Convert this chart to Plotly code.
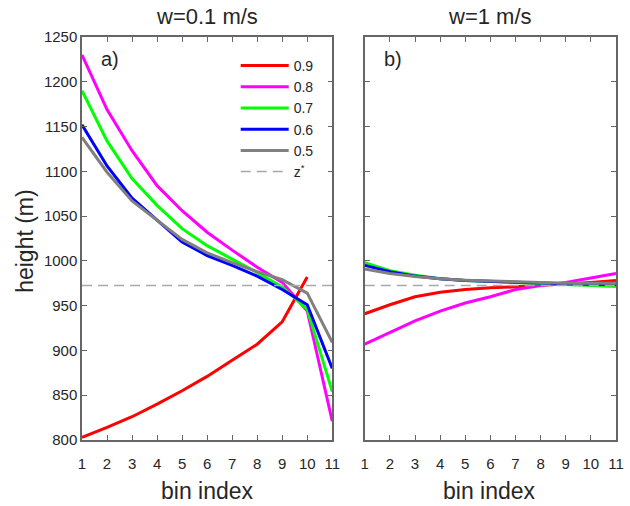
import plotly.graph_objects as go

bins = [1, 2, 3, 4, 5, 6, 7, 8, 9, 10, 11]
labels = ["0.9", "0.8", "0.7", "0.6", "0.5"]
colors = ["#ff0000", "#ff00ff", "#00ff00", "#0000ff", "#808080"]

# panel a) w=0.1 m/s
a_09 = [803, 814, 826, 840, 855, 871, 889, 907, 932, 982, None]
a_08 = [1230, 1169, 1123, 1084, 1056, 1032, 1012, 993, 976, 944, 821]
a_07 = [1190, 1134, 1092, 1062, 1036, 1017, 1002, 987, 971, 946, 854]
a_06 = [1152, 1106, 1070, 1045, 1021, 1006, 995, 983, 968, 951, 880]
a_05 = [1138, 1099, 1067, 1046, 1024, 1009, 998, 988, 979, 964, 909]

# panel b) w=1 m/s
b_09 = [941, 951, 960, 965, 968, 970, 971, 972.5, 974, 976, 978]
b_08 = [907, 920, 933, 944, 953, 960, 968, 972.5, 976, 981, 986]
b_07 = [998, 989, 984, 980, 978, 977, 976, 975, 974, 972.5, 971.5]
b_06 = [995, 988, 983, 980, 978, 977, 976, 975, 974.5, 974, 973.5]
b_05 = [991, 986, 982.5, 980, 978.5, 977.5, 977, 976, 975, 975, 975]

zstar = 972.6

W, H = 630, 506
ml, mr, mt, mb = 82, 6, 37, 66
pw = W - ml - mr
ph = H - mt - mb

def px(x):
    return (x - ml) / pw

def py(y):
    return 1 - (y - mt) / ph

FONT = "Liberation Sans, Arial, sans-serif"
AXC = "#666666"
TXT = "#262626"

fig = go.Figure()

for lab, col, ya, yb in zip(labels, colors, [a_09, a_08, a_07, a_06, a_05],
                            [b_09, b_08, b_07, b_06, b_05]):
    fig.add_trace(go.Scatter(x=bins, y=ya, mode="lines", name=lab,
                             line=dict(color=col, width=3), xaxis="x", yaxis="y"))
    fig.add_trace(go.Scatter(x=bins, y=yb, mode="lines", name=lab,
                             line=dict(color=col, width=3), xaxis="x2", yaxis="y2",
                             showlegend=False))

fig.add_trace(go.Scatter(x=[bins[0], bins[-1]], y=[zstar, zstar], mode="lines",
                         name="z<sup>*</sup>",
                         line=dict(color="#a8a8a8", width=1.5, dash="10px,6px"),
                         xaxis="x", yaxis="y"))
fig.add_trace(go.Scatter(x=[bins[0], bins[-1]], y=[zstar, zstar], mode="lines",
                         showlegend=False,
                         line=dict(color="#a8a8a8", width=1.5, dash="10px,6px"),
                         xaxis="x2", yaxis="y2"))

xcommon = dict(range=[1, 11], tickvals=bins, ticks="inside", ticklen=5,
               tickcolor=AXC, showline=True, linecolor=AXC, linewidth=1.5,
               mirror="ticks", showgrid=False, zeroline=False,
               tickfont=dict(family=FONT, size=15, color=TXT),
               ticklabelstandoff=9)
ycommon = dict(range=[800, 1250], dtick=50, ticks="inside", ticklen=5,
               tickcolor=AXC, showline=True, linecolor=AXC, linewidth=1.5,
               mirror="ticks", showgrid=False, zeroline=False,
               tickfont=dict(family=FONT, size=15, color=TXT))

fig.update_layout(
    width=W, height=H,
    margin=dict(l=ml, r=mr, t=mt, b=mb),
    paper_bgcolor="white", plot_bgcolor="white",
    font=dict(family=FONT, color=TXT),
    xaxis=dict(domain=[0, px(336)], anchor="y", **xcommon),
    yaxis=dict(domain=[0, 1], anchor="x", **ycommon),
    xaxis2=dict(domain=[px(369), 1], anchor="y2", **xcommon),
    yaxis2=dict(domain=[0, 1], anchor="x2", showticklabels=False, **ycommon),
    showlegend=True,
    legend=dict(x=px(238), y=py(50), xanchor="left", yanchor="top",
                bgcolor="rgba(0,0,0,0)", borderwidth=0, itemwidth=48,
                tracegroupgap=0,
                font=dict(family=FONT, size=14, color=TXT)),
)

ann = [
    dict(text="w=0.1 m/s", x=px(209), y=py(17), size=22),
    dict(text="w=1 m/s", x=px(496), y=py(17), size=22),
    dict(text="a)", x=px(110), y=py(59), size=20),
    dict(text="b)", x=px(398), y=py(59), size=20),
    dict(text="bin index", x=px(209), y=py(491), size=23),
    dict(text="bin index", x=px(496), y=py(491), size=23),
]
for a in ann:
    fig.add_annotation(text=a["text"], x=a["x"], y=a["y"], xref="paper", yref="paper",
                       showarrow=False, xanchor="center", yanchor="middle",
                       font=dict(family=FONT, size=a["size"], color=TXT))
fig.add_annotation(text="height (m)", x=px(24), y=py(241), xref="paper", yref="paper",
                   showarrow=False, xanchor="center", yanchor="middle", textangle=-90,
                   font=dict(family=FONT, size=23, color=TXT))

fig.write_html("out.html", config={"displayModeBar": False},
               post_script="document.body.style.margin='0px';document.body.style.padding='0px';")
